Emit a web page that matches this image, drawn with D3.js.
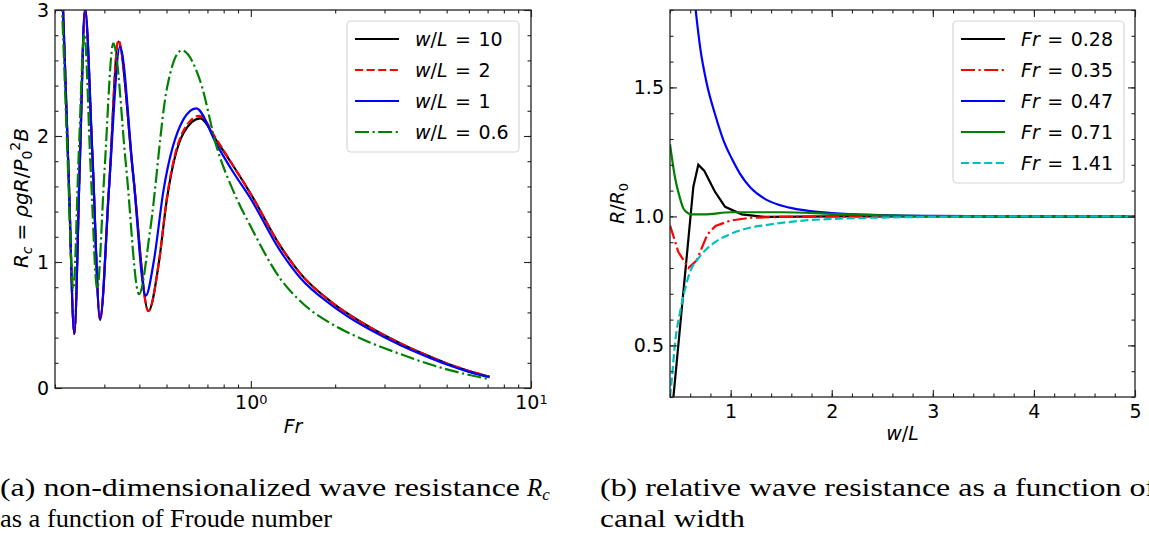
<!DOCTYPE html>
<html>
<head>
<meta charset="utf-8">
<script src="https://cdn.jsdelivr.net/npm/d3@7"></script>
<style>
body { margin: 0; background: #fff; }
svg text { fill: #000; }
</style>
</head>
<body>
<div id="chart"></div>
<script>
// ---- panel (a): R_c against Fr, one pair of arrays per canal width ----
const frW10 = [0.200, 0.2137, 0.224, 0.2344, 0.245, 0.256, 0.272, 0.2896, 0.312, 0.3366, 0.38, 0.431, 0.47, 0.501, 0.574, 0.659, 0.756, 0.867, 1.0, 1.272, 1.5, 1.92, 2.2, 2.67, 3.41, 4.19, 5.01, 5.97, 7.11];
const rcW10 = [4.3, 3.0, 1.65, 0.43, 1.75, 3.0, 1.85, 0.54, 1.6, 2.75, 1.7, 0.61, 1.0, 1.49, 2.02, 2.14, 1.96, 1.76, 1.54, 1.13, 0.91, 0.69, 0.595, 0.48, 0.355, 0.265, 0.195, 0.137, 0.09];

const frW2 = [0.200, 0.2137, 0.224, 0.2344, 0.245, 0.256, 0.272, 0.2896, 0.312, 0.3366, 0.38, 0.431, 0.47, 0.501, 0.574, 0.655, 0.756, 0.867, 1.0, 1.272, 1.5, 1.92, 2.2, 2.67, 3.41, 4.19, 5.01, 5.97, 7.11];
const rcW2 = [4.3, 3.0, 1.65, 0.43, 1.75, 3.0, 1.85, 0.545, 1.6, 2.76, 1.7, 0.61, 1.0, 1.5, 2.04, 2.16, 1.97, 1.76, 1.54, 1.13, 0.91, 0.69, 0.595, 0.48, 0.355, 0.265, 0.195, 0.137, 0.09];

const frW1 = [0.200, 0.2137, 0.224, 0.2344, 0.245, 0.256, 0.272, 0.2896, 0.312, 0.3413, 0.38, 0.4217, 0.45, 0.488, 0.574, 0.638, 0.756, 0.867, 1.0, 1.272, 1.5, 1.92, 2.2, 2.67, 3.41, 4.19, 5.01, 5.97, 7.11];
const rcW1 = [4.5, 3.0, 1.65, 0.43, 1.75, 3.02, 1.85, 0.55, 1.6, 2.71, 1.7, 0.733, 1.0, 1.57, 2.13, 2.22, 1.93, 1.71, 1.5, 1.09, 0.875, 0.665, 0.573, 0.462, 0.342, 0.255, 0.187, 0.13, 0.085];

const frW06 = [0.200, 0.212, 0.222, 0.2325, 0.243, 0.2545, 0.268, 0.283, 0.30, 0.323, 0.359, 0.399, 0.437, 0.501, 0.567, 0.659, 0.756, 0.867, 1.0, 1.272, 1.5, 1.92, 2.2, 2.67, 3.41, 4.19, 5.01, 5.97, 7.11];
const rcW06 = [4.2, 3.0, 1.8, 0.78, 1.85, 2.81, 1.75, 0.79, 1.7, 2.735, 1.75, 0.744, 1.25, 2.37, 2.68, 2.44, 1.91, 1.56, 1.28, 0.87, 0.69, 0.515, 0.445, 0.36, 0.27, 0.2, 0.148, 0.105, 0.07];

const leftLabels = ["10", "2", "1", "0.6"];
const leftXMajor = [1, 10];
const leftXMinor = [0.2, 0.3, 0.4, 0.5, 0.6, 0.7, 0.8, 0.9, 2, 3, 4, 5, 6, 7, 8, 9];
const leftYMajor = [0, 1, 2, 3];
const leftYMinor = d3.range(0, 16).map(d => d / 5);

// ---- panel (b): R/R0 against w/L, one pair of arrays per Froude number ----
const wFr028 = [0.40, 0.631, 0.68, 0.74, 0.846, 0.945, 1.11, 1.34, 2.0, 3.0, 4.0, 5.0];
const rFr028 = [0.16, 1.115, 1.2, 1.176, 1.095, 1.037, 1.008, 0.998, 1.0, 1.0, 1.0, 1.0];

const wFr035 = [0.40, 0.483, 0.582, 0.664, 0.77, 0.85, 1.0, 1.2, 1.5, 2.0, 3.0, 5.0];
const rFr035 = [0.965, 0.862, 0.80, 0.83, 0.93, 0.963, 0.984, 0.995, 0.998, 1.0, 1.0, 1.0];

const wFr047 = [0.62, 0.654, 0.70, 0.763, 0.85, 0.928, 1.01, 1.093, 1.2, 1.33, 1.5, 1.67, 2.0, 2.5, 3.0, 4.0, 5.0];
const rFr047 = [1.93, 1.8, 1.65, 1.516, 1.39, 1.296, 1.225, 1.165, 1.11, 1.07, 1.042, 1.027, 1.013, 1.005, 1.002, 1.0, 1.0];

const wFr071 = [0.40, 0.45, 0.499, 0.532, 0.57, 0.615, 0.74, 1.0, 1.5, 2.0, 2.5, 3.0, 4.0, 5.0];
const rFr071 = [1.28, 1.15, 1.07, 1.031, 1.015, 1.008, 1.008, 1.016, 1.016, 1.01, 1.004, 1.001, 1.0, 1.0];

const wFr141 = [0.40, 0.417, 0.45, 0.5, 0.55, 0.598, 0.68, 0.76, 0.846, 1.01, 1.2, 1.34, 1.67, 2.13, 3.0, 4.0, 5.0];
const rFr141 = [0.30, 0.365, 0.51, 0.63, 0.72, 0.785, 0.837, 0.873, 0.90, 0.934, 0.957, 0.966, 0.982, 0.992, 0.998, 1.0, 1.0];

const rightLabels = ["0.28", "0.35", "0.47", "0.71", "1.41"];
const rightXMajor = [1, 2, 3, 4, 5];
const rightXMinor = d3.range(4, 51, 2).map(d => d / 10);
const rightYMajor = [0.5, 1.0, 1.5];
const rightYMinor = d3.range(3, 19).map(d => d / 10);

const dashed = "8.1,3.5";
const dashDot = "14,3.5,2.2,3.5";
const sans = "'DejaVu Sans', sans-serif";
const serif = "'Liberation Serif', 'DejaVu Serif', serif";

const svg = d3.select("#chart").append("svg")
    .attr("width", 1149)
    .attr("height", 535)
    .style("font-family", sans);

// inward ticks on all four sides of a panel
function drawTicks(g, x, y, xMajor, xMinor, yMajor, yMinor, x0, x1, y0, y1, xFmt, yFmt) {
    const sides = [[d3.axisBottom(x), y1, true], [d3.axisTop(x), y0, false]];
    sides.forEach(([ax, pos, lab]) => {
        g.append("g").attr("transform", `translate(0,${pos})`)
            .call(ax.tickValues(xMinor).tickSize(-3.5).tickFormat(""));
        g.append("g").attr("class", lab ? "xlab" : "")
            .attr("transform", `translate(0,${pos})`)
            .call(ax.tickValues(xMajor).tickSize(-7).tickPadding(8).tickFormat(lab ? xFmt : ""));
    });
    const ysides = [[d3.axisLeft(y), x0, true], [d3.axisRight(y), x1, false]];
    ysides.forEach(([ax, pos, lab]) => {
        g.append("g").attr("transform", `translate(${pos},0)`)
            .call(ax.tickValues(yMinor).tickSize(-3.5).tickFormat(""));
        g.append("g").attr("transform", `translate(${pos},0)`)
            .call(ax.tickValues(yMajor).tickSize(-7).tickPadding(6).tickFormat(lab ? yFmt : ""));
    });
    g.selectAll(".domain").remove();
    g.selectAll(".tick line").attr("stroke", "#222").attr("stroke-width", 1.1);
    g.selectAll(".tick text").style("font-size", "19px").style("font-family", sans).attr("fill", "#000");
    g.append("rect")
        .attr("x", x0).attr("y", y0)
        .attr("width", x1 - x0).attr("height", y1 - y0)
        .attr("fill", "none").attr("stroke", "#222").attr("stroke-width", 1.3);
}

function drawLegend(g, series, bx, by, bw, bh, key) {
    g.append("rect")
        .attr("x", bx).attr("y", by).attr("width", bw).attr("height", bh)
        .attr("rx", 4)
        .attr("fill", "#fff").attr("fill-opacity", 0.8)
        .attr("stroke", "#d6d6d6").attr("stroke-width", 1.2);
    series.forEach((s, i) => {
        const cy = by + 18 + i * 31;
        g.append("line")
            .attr("x1", bx + 8).attr("x2", bx + 52)
            .attr("y1", cy).attr("y2", cy)
            .attr("stroke", s.color).attr("stroke-width", 2.2)
            .attr("stroke-dasharray", s.dash);
        const t = g.append("text").attr("x", bx + 68).attr("y", cy + 7).style("font-size", "19px");
        key(t);
        t.append("tspan").attr("dx", 7.5).text("=");
        t.append("tspan").attr("dx", 7.5).text(s.label);
    });
}

// ================= panel (a) =================
const ax0 = 55, ax1 = 531, ay0 = 10, ay1 = 388;
const xa = d3.scaleLog().domain([0.2, 10]).range([ax0, ax1]);
const ya = d3.scaleLinear().domain([0, 3]).range([ay1, ay0]);

const leftSeries = [
    { fr: frW10, v: rcW10, color: "#000000", dash: null, label: leftLabels[0] },
    { fr: frW2, v: rcW2, color: "#ff0000", dash: dashed, label: leftLabels[1] },
    { fr: frW1, v: rcW1, color: "#0000ff", dash: null, label: leftLabels[2] },
    { fr: frW06, v: rcW06, color: "#008000", dash: dashDot, label: leftLabels[3] }
];

svg.append("clipPath").attr("id", "clipA").append("rect")
    .attr("x", ax0).attr("y", ay0).attr("width", ax1 - ax0).attr("height", ay1 - ay0);

const gA = svg.append("g");
const lineA = d3.line().x(d => xa(d[0])).y(d => ya(d[1])).curve(d3.curveMonotoneX);
leftSeries.forEach(s => {
    gA.append("path")
        .attr("clip-path", "url(#clipA)")
        .attr("d", lineA(d3.zip(s.fr, s.v)))
        .attr("fill", "none")
        .attr("stroke", s.color)
        .attr("stroke-width", 2.2)
        .attr("stroke-dasharray", s.dash);
});

drawTicks(gA, xa, ya, leftXMajor, leftXMinor, leftYMajor, leftYMinor,
    ax0, ax1, ay0, ay1, () => "", d3.format("d"));
// 10^n labels
gA.selectAll(".xlab .tick text").each(function (d) {
    const t = d3.select(this);
    t.text("10");
    t.append("tspan").attr("dy", "-0.45em").style("font-size", "13px").text(Math.round(Math.log10(d)));
});

drawLegend(gA, leftSeries, 347, 21, 172, 131, t => {
    t.append("tspan").style("font-style", "italic").text("w");
    t.append("tspan").text("/");
    t.append("tspan").style("font-style", "italic").text("L");
});

gA.append("text").attr("x", (ax0 + ax1) / 2).attr("y", 433)
    .attr("text-anchor", "middle").style("font-size", "19px").style("font-style", "italic").text("Fr");

const ylA = gA.append("text")
    .attr("transform", `translate(28,198) rotate(-90)`)
    .attr("text-anchor", "middle").style("font-size", "20px");
ylA.append("tspan").style("font-style", "italic").text("R");
ylA.append("tspan").style("font-style", "italic").style("font-size", "14px").attr("dy", 4).text("c");
ylA.append("tspan").attr("dy", -4).attr("dx", 6).text("=");
ylA.append("tspan").attr("dx", 6).style("font-style", "italic").text("ρgR");
ylA.append("tspan").text("/");
ylA.append("tspan").style("font-style", "italic").text("P");
ylA.append("tspan").style("font-size", "14px").attr("dy", 4).text("0");
ylA.append("tspan").style("font-size", "14px").attr("dy", -12).text("2");
ylA.append("tspan").style("font-style", "italic").attr("dy", 8).text("B");

// ================= panel (b) =================
const bx0 = 670, bx1 = 1135, by0 = 10, by1 = 397;
const xb = d3.scaleLinear().domain([0.4, 5]).range([bx0, bx1]);
const yb = d3.scaleLinear().domain([0.3, 1.8]).range([by1, by0]);

const rightSeries = [
    { fr: wFr028, v: rFr028, color: "#000000", dash: null, label: rightLabels[0], curve: d3.curveLinear },
    { fr: wFr035, v: rFr035, color: "#ff0000", dash: dashDot, label: rightLabels[1], curve: d3.curveLinear },
    { fr: wFr047, v: rFr047, color: "#0000ff", dash: null, label: rightLabels[2], curve: d3.curveMonotoneX },
    { fr: wFr071, v: rFr071, color: "#008000", dash: null, label: rightLabels[3], curve: d3.curveMonotoneX },
    { fr: wFr141, v: rFr141, color: "#00bfbf", dash: dashed, label: rightLabels[4], curve: d3.curveMonotoneX }
];

svg.append("clipPath").attr("id", "clipB").append("rect")
    .attr("x", bx0).attr("y", by0).attr("width", bx1 - bx0).attr("height", by1 - by0);

const gB = svg.append("g");
rightSeries.forEach(s => {
    const lineB = d3.line().x(d => xb(d[0])).y(d => yb(d[1])).curve(s.curve);
    gB.append("path")
        .attr("clip-path", "url(#clipB)")
        .attr("d", lineB(d3.zip(s.fr, s.v)))
        .attr("fill", "none")
        .attr("stroke", s.color)
        .attr("stroke-width", 2.2)
        .attr("stroke-dasharray", s.dash);
});

drawTicks(gB, xb, yb, rightXMajor, rightXMinor, rightYMajor, rightYMinor,
    bx0, bx1, by0, by1, d3.format("d"), d3.format(".1f"));

drawLegend(gB, rightSeries, 953, 21, 171, 162, t => {
    t.append("tspan").style("font-style", "italic").text("Fr");
});

const xlB = gB.append("text").attr("x", (bx0 + bx1) / 2).attr("y", 440)
    .attr("text-anchor", "middle").style("font-size", "19px");
xlB.append("tspan").style("font-style", "italic").text("w");
xlB.append("tspan").text("/");
xlB.append("tspan").style("font-style", "italic").text("L");

const ylB = gB.append("text")
    .attr("transform", `translate(624,${(by0 + by1) / 2}) rotate(-90)`)
    .attr("text-anchor", "middle").style("font-size", "19px");
ylB.append("tspan").style("font-style", "italic").text("R");
ylB.append("tspan").text("/");
ylB.append("tspan").style("font-style", "italic").text("R");
ylB.append("tspan").style("font-size", "13px").attr("dy", 4).text("0");

// ================= captions =================
function caption(x, y, len, str) {
    return svg.append("text").attr("x", x).attr("y", y)
        .style("font-family", serif).style("font-size", "25px")
        .attr("textLength", len).attr("lengthAdjust", "spacingAndGlyphs")
        .text(str);
}
caption(0, 496, 520, "(a) non-dimensionalized wave resistance");
const rc = svg.append("text").attr("x", 527).attr("y", 496)
    .style("font-family", serif).style("font-size", "25px");
rc.append("tspan").style("font-style", "italic").text("R");
rc.append("tspan").style("font-style", "italic").style("font-size", "17px").attr("dy", 4).text("c");
caption(0, 527, 332, "as a function of Froude number");
caption(600, 496, 556, "(b) relative wave resistance as a function of");
caption(600, 527, 145, "canal width");
</script>
</body>
</html>
